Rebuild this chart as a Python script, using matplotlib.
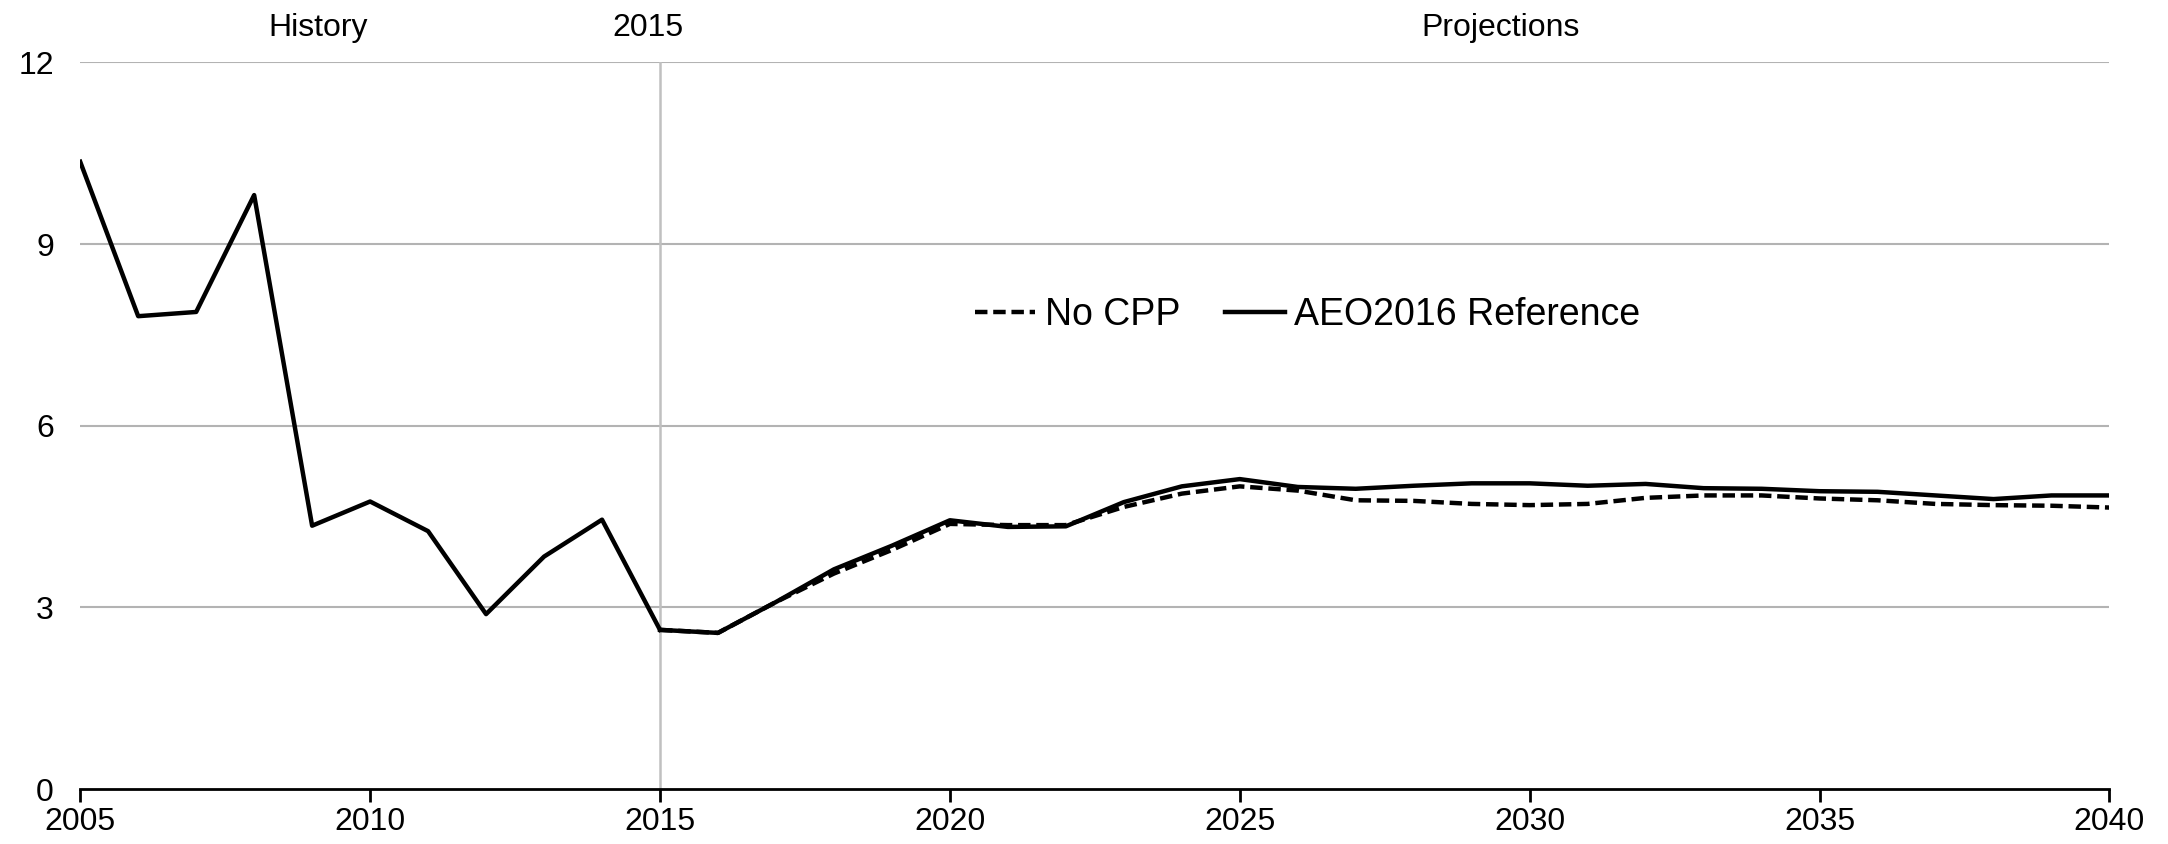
import matplotlib
matplotlib.use("Agg")
import matplotlib.pyplot as plt

plt.rcParams["font.family"] = ["Liberation Sans", "DejaVu Sans"]

# ── data ──────────────────────────────────────────────────────────
years_hist = list(range(2005, 2016))
hist = [10.36, 7.81, 7.88, 9.81, 4.35, 4.75, 4.26, 2.89, 3.84, 4.45, 2.63]

years_proj = list(range(2015, 2041))
reference = [2.63, 2.58, 3.09, 3.63, 4.02, 4.44, 4.33, 4.34, 4.74, 5.00,
             5.12, 4.99, 4.96, 5.01, 5.05, 5.05, 5.01, 5.04, 4.97, 4.96,
             4.92, 4.91, 4.85, 4.79, 4.85, 4.85]
no_cpp = [2.63, 2.58, 3.09, 3.56, 3.95, 4.38, 4.36, 4.36, 4.66, 4.88,
          5.00, 4.93, 4.77, 4.76, 4.71, 4.69, 4.71, 4.81, 4.85, 4.85,
          4.80, 4.77, 4.71, 4.69, 4.68, 4.65]

x_ticks = [2005, 2010, 2015, 2020, 2025, 2030, 2035, 2040]
y_ticks = [0, 3, 6, 9, 12]

fig = plt.figure(figsize=(21.68, 8.44), dpi=100)
ax = fig.add_axes([0.037, 0.065, 0.936, 0.861])

ax.set_xlim(2005, 2040)
ax.set_ylim(0, 12)

# gridlines + 2015 divider
for yv in y_ticks[1:]:
    ax.axhline(yv, color="#b3b3b3", lw=1.5, zorder=1)
ax.axvline(2015, color="#c0c0c0", lw=1.8, zorder=1)

lw = 3.2
ax.plot(years_hist, hist, color="black", lw=lw, zorder=3)
ax.plot(years_proj, no_cpp, color="black", lw=lw, dashes=(2.8, 1.3),
        label="No CPP", zorder=3)
ax.plot(years_proj, reference, color="black", lw=lw,
        label="AEO2016 Reference", zorder=4)

# axes styling
for side in ["top", "right", "left"]:
    ax.spines[side].set_visible(False)
ax.spines["bottom"].set_linewidth(2)
ax.spines["bottom"].set_zorder(5)
ax.set_xticks(x_ticks)
ax.set_yticks(y_ticks)
ax.tick_params(axis="x", direction="out", length=9, width=2,
               labelsize=23, pad=4)
ax.tick_params(axis="y", length=0, labelsize=23, pad=19)

# top labels
for xv, txt in [(2009.1, "History"), (2014.8, "2015"), (2029.5, "Projections")]:
    ax.text(xv, 12.57, txt, ha="center", va="center", fontsize=23)

ax.legend(loc="center", bbox_to_anchor=(0.605, 0.652), ncol=2,
          frameon=False, fontsize=27, handlelength=1.6,
          handletextpad=0.25, columnspacing=1.2)

fig.savefig("out.png", dpi=100, facecolor="white")
